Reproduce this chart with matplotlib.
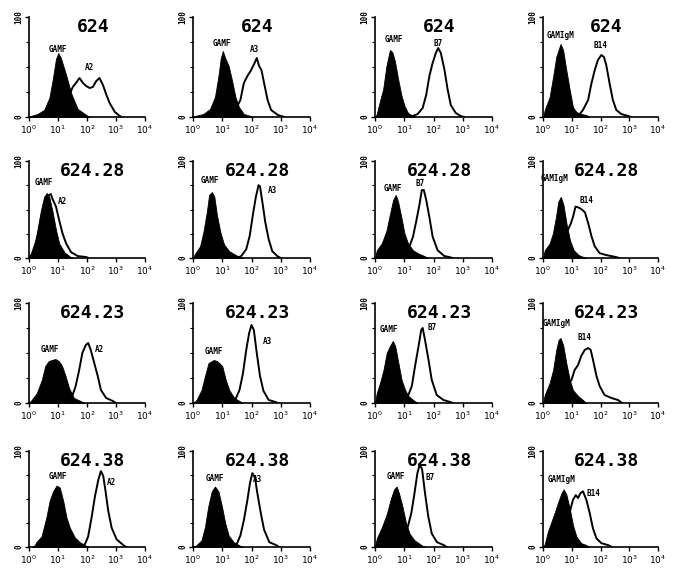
import numpy as np
import matplotlib
matplotlib.use("Agg")
from matplotlib import pyplot as plt
from matplotlib.ticker import FixedLocator, LogLocator, NullFormatter

# clones (rows) and antibodies (columns)
clones = ['624', '624.28', '624.23', '624.38']
samples = ['A2', 'A3', 'B7', 'B14']
controls = ['GAMF', 'GAMF', 'GAMF', 'GAMIgM']

# histograms as (log10 fluorescence, % of max)
# row 624
ctrl_624_A2 = [(0.0, 0), (0.06, 1), (0.29, 3), (0.52, 7), (0.70, 19), (0.81, 36), (0.93, 58), (1.01, 64),
               (1.10, 59), (1.28, 42), (1.45, 24), (1.68, 8), (2.03, 1), (2.1, 0)]
samp_624_A2 = [(1.0, 0), (1.3, 12), (1.45, 26), (1.51, 30), (1.62, 34), (1.74, 39), (1.86, 34), (1.97, 31),
               (2.09, 29), (2.20, 30), (2.32, 36), (2.43, 39), (2.55, 32), (2.67, 22), (2.78, 14), (2.96, 5),
               (3.13, 1), (3.2, 0)]
ctrl_624_A3 = [(0.0, 0), (0.06, 1), (0.35, 3), (0.58, 8), (0.75, 20), (0.87, 41), (0.95, 59), (1.02, 66),
               (1.10, 59), (1.22, 51), (1.33, 37), (1.45, 20), (1.57, 10), (1.74, 3), (1.97, 1), (2.05, 0)]
samp_624_A3 = [(1.0, 0), (1.3, 4), (1.5, 10), (1.62, 17), (1.74, 34), (1.86, 41), (1.97, 46), (2.09, 53),
               (2.18, 59), (2.26, 51), (2.34, 47), (2.43, 34), (2.55, 17), (2.67, 7), (2.90, 2), (3.13, 0)]
ctrl_624_B7 = [(0.0, 0), (0.06, 3), (0.17, 16), (0.28, 28), (0.39, 51), (0.51, 67), (0.59, 65), (0.68, 56),
               (0.79, 38), (0.90, 22), (1.01, 11), (1.13, 4), (1.30, 1), (1.4, 0)]
samp_624_B7 = [(1.2, 0), (1.46, 3), (1.63, 9), (1.75, 22), (1.86, 41), (1.97, 54), (2.08, 64), (2.16, 69),
               (2.25, 64), (2.37, 48), (2.48, 28), (2.59, 12), (2.76, 4), (2.93, 1), (3.05, 0)]
ctrl_624_B14 = [(0.0, 0), (0.06, 7), (0.23, 20), (0.35, 40), (0.46, 60), (0.61, 73), (0.70, 67), (0.81, 47),
                (0.93, 27), (1.04, 10), (1.16, 5), (1.33, 3), (1.51, 2), (1.6, 0)]
samp_624_B14 = [(1.2, 0), (1.39, 7), (1.57, 17), (1.68, 33), (1.80, 47), (1.91, 57), (2.03, 62), (2.12, 60),
                (2.20, 52), (2.32, 33), (2.43, 17), (2.55, 7), (2.72, 3), (2.96, 1), (3.05, 0)]

# row 624.28
ctrl_62428_A2 = [(0.0, 0), (0.06, 2), (0.17, 11), (0.29, 29), (0.41, 49), (0.52, 63), (0.61, 67), (0.70, 63),
                 (0.81, 48), (0.93, 29), (1.04, 15), (1.22, 6), (1.39, 2), (1.5, 0)]
samp_62428_A2 = [(0.0, 0), (0.1, 4), (0.3, 22), (0.5, 52), (0.65, 64), (0.75, 66), (0.81, 61), (0.93, 53),
                 (1.04, 39), (1.16, 25), (1.28, 15), (1.45, 6), (1.68, 2), (1.97, 1), (2.05, 0)]
ctrl_62428_A3 = [(0.0, 0), (0.06, 4), (0.24, 12), (0.35, 26), (0.47, 47), (0.55, 65), (0.65, 68), (0.73, 63),
                 (0.82, 44), (0.94, 26), (1.06, 14), (1.24, 7), (1.41, 4), (1.59, 1), (1.7, 0)]
samp_62428_A3 = [(1.5, 0), (1.65, 2), (1.82, 9), (1.94, 23), (2.06, 47), (2.15, 63), (2.24, 75), (2.29, 74),
                 (2.39, 54), (2.47, 37), (2.59, 19), (2.71, 7), (2.88, 2), (3.0, 0)]
ctrl_62428_B7 = [(0.0, 0), (0.06, 8), (0.23, 15), (0.39, 28), (0.51, 45), (0.62, 60), (0.71, 65), (0.79, 58),
                 (0.90, 42), (1.01, 25), (1.13, 15), (1.30, 8), (1.46, 5), (1.69, 2), (1.8, 0)]
samp_62428_B7 = [(0.9, 0), (1.05, 6), (1.18, 12), (1.30, 22), (1.41, 38), (1.52, 55), (1.60, 70), (1.67, 70),
                 (1.75, 60), (1.86, 42), (1.97, 22), (2.14, 8), (2.37, 2), (2.54, 1), (2.65, 0)]
ctrl_62428_B14 = [(0.0, 0), (0.06, 8), (0.23, 15), (0.34, 25), (0.45, 42), (0.53, 58), (0.62, 63), (0.71, 55),
                  (0.82, 35), (0.94, 18), (1.07, 8), (1.24, 3), (1.41, 1), (1.5, 0)]
samp_62428_B14 = [(0.3, 0), (0.5, 4), (0.7, 15), (0.85, 28), (0.96, 35), (1.05, 43), (1.13, 53), (1.24, 52),
                  (1.35, 50), (1.46, 47), (1.58, 35), (1.69, 22), (1.80, 12), (1.97, 5), (2.20, 3), (2.54, 1),
                  (2.65, 0)]

# row 624.23
ctrl_62423_A2 = [(0.0, 0), (0.09, 3), (0.27, 10), (0.44, 23), (0.56, 37), (0.68, 42), (0.79, 43), (0.91, 44),
                 (1.03, 42), (1.14, 37), (1.26, 27), (1.38, 15), (1.55, 5), (1.78, 2), (1.9, 0)]
samp_62423_A2 = [(1.2, 0), (1.35, 3), (1.49, 7), (1.61, 17), (1.73, 33), (1.84, 50), (1.96, 58), (2.04, 60),
                 (2.13, 53), (2.25, 40), (2.37, 27), (2.48, 13), (2.66, 5), (2.89, 2), (3.0, 0)]
ctrl_62423_A3 = [(0.0, 0), (0.12, 3), (0.29, 13), (0.41, 27), (0.53, 40), (0.71, 43), (0.82, 42), (1.0, 37),
                 (1.12, 23), (1.24, 13), (1.41, 5), (1.59, 2), (1.7, 0)]
samp_62423_A3 = [(1.3, 0), (1.47, 5), (1.59, 13), (1.71, 30), (1.82, 53), (1.92, 70), (2.0, 78), (2.08, 73),
                 (2.18, 50), (2.29, 27), (2.41, 12), (2.59, 3), (2.82, 1), (2.9, 0)]
ctrl_62423_B7 = [(0.0, 0), (0.06, 10), (0.17, 20), (0.29, 33), (0.40, 50), (0.51, 57), (0.61, 62), (0.69, 57),
                 (0.80, 40), (0.91, 23), (1.03, 13), (1.14, 7), (1.31, 3), (1.45, 0)]
samp_62423_B7 = [(0.9, 0), (1.0, 3), (1.14, 8), (1.26, 17), (1.37, 37), (1.49, 57), (1.58, 73), (1.63, 75),
                 (1.71, 63), (1.83, 43), (1.94, 23), (2.11, 8), (2.34, 3), (2.57, 1), (2.65, 0)]
ctrl_62423_B14 = [(0.0, 0), (0.06, 8), (0.23, 20), (0.35, 33), (0.46, 53), (0.54, 63), (0.61, 65), (0.70, 58),
                  (0.81, 40), (0.93, 23), (1.04, 13), (1.22, 7), (1.39, 3), (1.5, 0)]
samp_62423_B14 = [(0.4, 0), (0.6, 6), (0.8, 15), (0.99, 23), (1.10, 33), (1.22, 38), (1.33, 47), (1.45, 53),
                  (1.57, 55), (1.66, 53), (1.74, 43), (1.86, 27), (1.97, 17), (2.14, 8), (2.38, 5), (2.61, 3),
                  (2.75, 0)]

# row 624.38
ctrl_62438_A2 = [(0.1, 0), (0.2, 2), (0.25, 5), (0.43, 11), (0.60, 31), (0.71, 48), (0.83, 58), (0.95, 64),
                 (1.06, 62), (1.18, 48), (1.29, 31), (1.41, 20), (1.58, 10), (1.75, 5), (1.93, 2), (2.05, 0)]
samp_62438_A2 = [(1.75, 0), (1.93, 3), (2.04, 11), (2.16, 31), (2.27, 52), (2.39, 70), (2.48, 79), (2.56, 74),
                 (2.64, 58), (2.73, 38), (2.85, 20), (3.02, 8), (3.25, 2), (3.35, 0)]
ctrl_62438_A3 = [(0.0, 0), (0.12, 2), (0.29, 7), (0.41, 21), (0.52, 42), (0.64, 58), (0.75, 63), (0.87, 58),
                 (0.99, 42), (1.10, 25), (1.22, 12), (1.39, 5), (1.57, 2), (1.7, 0)]
samp_62438_A3 = [(1.35, 0), (1.51, 4), (1.62, 12), (1.74, 28), (1.86, 49), (1.95, 67), (2.03, 77), (2.12, 72),
                 (2.20, 56), (2.32, 35), (2.43, 18), (2.61, 5), (2.84, 2), (2.95, 0)]
ctrl_62438_B7 = [(0.0, 0), (0.06, 9), (0.24, 21), (0.41, 35), (0.53, 49), (0.65, 60), (0.74, 63), (0.82, 56),
                 (0.94, 42), (1.06, 25), (1.18, 14), (1.35, 7), (1.59, 2), (1.7, 0)]
samp_62438_B7 = [(0.6, 0), (0.8, 5), (1.0, 12), (1.12, 21), (1.24, 35), (1.35, 56), (1.45, 77), (1.53, 86),
                 (1.61, 81), (1.71, 56), (1.82, 32), (1.94, 14), (2.12, 5), (2.35, 2), (2.45, 0)]
ctrl_62438_B14 = [(0.0, 0), (0.06, 3), (0.17, 16), (0.29, 26), (0.41, 36), (0.52, 46), (0.64, 56), (0.72, 60),
                  (0.81, 55), (0.93, 40), (1.04, 23), (1.16, 11), (1.33, 4), (1.51, 2), (1.6, 0)]
samp_62438_B14 = [(0.3, 0), (0.6, 15), (0.8, 28), (0.93, 36), (1.04, 49), (1.14, 54), (1.22, 51), (1.30, 56),
                  (1.39, 58), (1.51, 49), (1.62, 36), (1.74, 19), (1.86, 9), (2.03, 4), (2.26, 2), (2.4, 0)]

# label anchors (log10 x, y) for control / sample names
ctrl_labels = [[(1.01, 67), (0.99, 73), (0.65, 77), (0.61, 82)],
               [(0.50, 78), (0.59, 80), (0.62, 72), (0.39, 82)],
               [(0.73, 53), (0.71, 52), (0.46, 74), (0.46, 80)],
               [(1.00, 73), (0.75, 71), (0.73, 73), (0.64, 70)]]
samp_labels = [[(2.09, 49), (2.09, 68), (2.16, 74), (1.99, 72)],
               [(1.16, 58), (2.71, 70), (1.55, 77), (1.52, 59)],
               [(2.43, 53), (2.53, 62), (1.94, 75), (1.45, 66)],
               [(2.85, 67), (2.20, 70), (1.88, 72), (1.74, 56)]]

ctrl_curves = [[ctrl_624_A2, ctrl_624_A3, ctrl_624_B7, ctrl_624_B14],
               [ctrl_62428_A2, ctrl_62428_A3, ctrl_62428_B7, ctrl_62428_B14],
               [ctrl_62423_A2, ctrl_62423_A3, ctrl_62423_B7, ctrl_62423_B14],
               [ctrl_62438_A2, ctrl_62438_A3, ctrl_62438_B7, ctrl_62438_B14]]
samp_curves = [[samp_624_A2, samp_624_A3, samp_624_B7, samp_624_B14],
               [samp_62428_A2, samp_62428_A3, samp_62428_B7, samp_62428_B14],
               [samp_62423_A2, samp_62423_A3, samp_62423_B7, samp_62423_B14],
               [samp_62438_A2, samp_62438_A3, samp_62438_B7, samp_62438_B14]]

# panel placement in pixels
W, H = 686, 570
col_left = [29, 193, 375, 543]
col_width = [116, 117, 117, 115]
row_top = [17, 161, 303, 451]
row_bottom = [117, 258, 403, 547]

fig = plt.figure(figsize=(W / 100, H / 100), dpi=100)
mono = 'DejaVu Sans Mono'

for r in range(4):
    for c in range(4):
        ax = fig.add_axes([col_left[c] / W, 1 - row_bottom[r] / H,
                           col_width[c] / W, (row_bottom[r] - row_top[r]) / H])
        ax.set_xscale('log')
        ax.set_xlim(1, 1e4)
        ax.set_ylim(0, 100)

        s = np.array(samp_curves[r][c], dtype=float)
        ax.fill_between(10 ** s[:, 0], s[:, 1], color='white', zorder=1)
        ax.plot(10 ** s[:, 0], s[:, 1], color='black', lw=1.4, zorder=2)
        k = np.array(ctrl_curves[r][c], dtype=float)
        ax.fill_between(10 ** k[:, 0], k[:, 1], color='black', lw=0.6, zorder=3)

        cx, cy = ctrl_labels[r][c]
        ax.text(10 ** cx, cy, controls[c], ha='center', va='center', fontsize=5.5,
                family=mono, fontweight='bold', zorder=4)
        sx, sy = samp_labels[r][c]
        ax.text(10 ** sx, sy, samples[c], ha='center', va='center', fontsize=5.5,
                family=mono, fontweight='bold', zorder=4)

        ax.text(0.55, 0.9, clones[r], transform=ax.transAxes, ha='center', va='center',
                fontsize=13, family=mono, fontweight='bold')

        for side in ['top', 'right']:
            ax.spines[side].set_visible(False)
        for side in ['left', 'bottom']:
            ax.spines[side].set_linewidth(1.2)

        ax.set_xticks([1, 10, 100, 1000, 10000])
        ax.set_xticklabels([r'$10^{0}$', r'$10^{1}$', r'$10^{2}$', r'$10^{3}$', r'$10^{4}$'],
                           fontsize=6.5, fontweight='bold')
        ax.xaxis.set_minor_locator(LogLocator(base=10, subs=np.arange(2, 10)))
        ax.xaxis.set_minor_formatter(NullFormatter())
        ax.tick_params(axis='x', which='major', length=3, width=1, pad=1.5)
        ax.tick_params(axis='x', which='minor', length=1.5, width=0.6)

        ax.set_yticks([0, 100])
        ax.set_yticklabels(['0', '100'], rotation=90, va='center', fontsize=5.5,
                           family=mono, fontweight='bold')
        ax.yaxis.set_minor_locator(FixedLocator([25, 50, 75]))
        ax.tick_params(axis='y', which='major', length=3, width=1, pad=1)
        ax.tick_params(axis='y', which='minor', length=2, width=0.8)

fig.savefig('out.png', dpi=100)
